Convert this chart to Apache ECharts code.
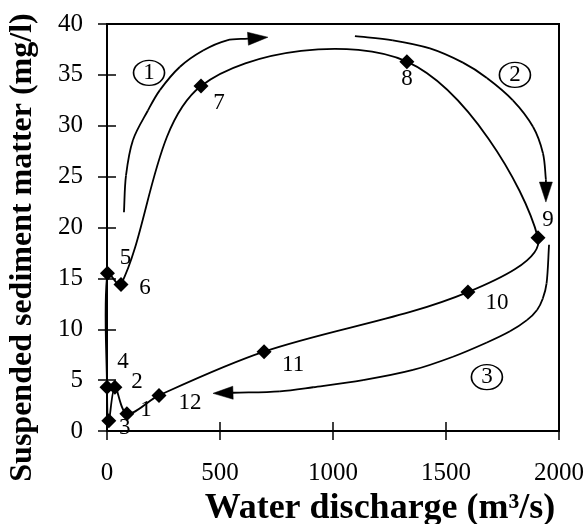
<!DOCTYPE html>
<html>
<head>
<meta charset="utf-8">
<script src="https://cdn.jsdelivr.net/npm/echarts@6/dist/echarts.min.js"></script>
<style>html,body{margin:0;padding:0;background:#fff;}#c{width:587px;height:524px;}</style>
</head>
<body>
<div id="c"></div>
<script>
// Monthly points (month number, water discharge m3/s, suspended sediment mg/l)
var months = ['1','2','3','4','5','6','7','8','9','10','11','12'];
var discharge = [88, 35, 8, 0, 2, 62, 416, 1327, 1907, 1597, 695, 230];
var sediment = [1.7, 4.3, 1.0, 4.3, 15.5, 14.4, 33.9, 36.3, 19.0, 13.65, 7.8, 3.5];
// label offsets for month labels [dx, dy] in px
var labelOffsets = [[19,-4],[22,-5],[16,7],[16,-25],[18,-15],[24,3],[18,17],[0,17],[10,-18],[29,11],[29,13],[31,8]];

// Hysteresis arrows (data coordinates, last point = arrow tip)
var arrow1 = [[75,21.5],[84,25.1],[115,28.6],[181,31.5],[234,33.5],[323,35.8],[425,37.4],[531,38.4],[712,38.7]];
var arrow2 = [[1097,38.8],[1265,38.4],[1429,37.6],[1575,36.2],[1681,34.7],[1796,32.5],[1885,29.9],[1929,27.3],[1942,24.7],[1942,22.5]];
var arrow3 = [[1956,18.3],[1945,14.5],[1928,13.0],[1903,11.9],[1858,10.9],[1783,9.8],[1681,8.7],[1531,7.3],[1354,6.0],[1133,5.0],[912,4.3],[765,3.9],[469,3.7]];
var phaseLabels = ['1','2','3'];
var phasePos = [[186,35.2],[1805,35.0],[1681,5.3]];

var xTicks = [0, 500, 1000, 1500, 2000];
var yTicks = [0, 5, 10, 15, 20, 25, 30, 35, 40];

var font = '"Liberation Serif", "Times New Roman", serif';
var arrows = [arrow1, arrow2, arrow3];

// Smoothed curve (spreadsheet-like "smoothed line") through pixel points:
// tangent = next - prev, split by neighbouring segment lengths
function smoothSegments(px, closed, style) {
  var n = px.length, out = [], s = 1 / 3;
  var segs = closed ? n : n - 1;
  function at(i) {
    if (closed) return px[(i + n) % n];
    return px[Math.max(0, Math.min(n - 1, i))];
  }
  function dist(a, b) { return Math.sqrt((a[0] - b[0]) * (a[0] - b[0]) + (a[1] - b[1]) * (a[1] - b[1])); }
  function cps(i) {
    var p = at(i), pr = at(i - 1), nx = at(i + 1);
    var dp = dist(p, pr), dn = dist(p, nx), sum = dp + dn || 1;
    var vx = nx[0] - pr[0], vy = nx[1] - pr[1];
    return {
      inX: p[0] - vx * s * dp / sum, inY: p[1] - vy * s * dp / sum,
      outX: p[0] + vx * s * dn / sum, outY: p[1] + vy * s * dn / sum
    };
  }
  for (var i = 0; i < segs; i++) {
    var p1 = at(i), p2 = at(i + 1), c1 = cps(i), c2 = cps(i + 1);
    out.push({
      type: 'bezierCurve',
      shape: {
        x1: p1[0], y1: p1[1], x2: p2[0], y2: p2[1],
        cpx1: c1.outX, cpy1: c1.outY, cpx2: c2.inX, cpy2: c2.inY
      },
      style: style
    });
  }
  return out;
}

var lineStyle = {stroke: '#000', lineWidth: 1.8, fill: null};

var chart = echarts.init(document.getElementById('c'), null, {renderer: 'canvas'});
chart.setOption({
  animation: false,
  backgroundColor: '#fff',
  grid: {left: 107, right: 28, top: 24, bottom: 93, containLabel: false, outerBoundsMode: 'none',
    show: true, borderColor: '#000', borderWidth: 2, backgroundColor: 'transparent'},
  xAxis: [
    {
      type: 'value', min: 0, max: 2000, interval: 500, position: 'bottom',
      splitLine: {show: false},
      axisLine: {show: true, onZero: false, lineStyle: {color: '#000', width: 2}},
      axisTick: {show: true, length: 9, lineStyle: {color: '#000', width: 1.5}},
      axisLabel: {color: '#000', fontFamily: font, fontSize: 25, margin: 30,
        formatter: function (v) { return xTicks.indexOf(v) >= 0 ? String(v) : ''; }},
      name: 'Water discharge (m\u00B3/s)', nameLocation: 'middle', nameGap: 57,
      nameTextStyle: {color: '#000', fontFamily: font, fontSize: 36, fontWeight: 'bold', padding: [0, 0, 0, 94]}
    },
    {
      type: 'value', min: 0, max: 2000, interval: 500, position: 'bottom',
      splitLine: {show: false},
      axisLine: {show: false, onZero: false},
      axisTick: {show: true, inside: true, length: 9, lineStyle: {color: '#000', width: 1.5}},
      axisLabel: {show: false}
    }
  ],
  yAxis: [
    {
      type: 'value', min: 0, max: 40, interval: 5, position: 'left',
      splitLine: {show: false},
      axisLine: {show: true, onZero: false, lineStyle: {color: '#000', width: 2}},
      axisTick: {show: true, length: 9, lineStyle: {color: '#000', width: 1.5}},
      axisLabel: {color: '#000', fontFamily: font, fontSize: 25, margin: 24,
        formatter: function (v) { return yTicks.indexOf(v) >= 0 ? String(v) : ''; }},
      name: 'Suspended sediment matter (mg/l)', nameLocation: 'middle', nameGap: 68,
      nameTextStyle: {color: '#000', fontFamily: font, fontSize: 32, fontWeight: 'bold', padding: [0, 40, 0, 0]}
    },
    {
      type: 'value', min: 0, max: 40, interval: 5, position: 'left',
      splitLine: {show: false},
      axisLine: {show: false, onZero: false},
      axisTick: {show: true, inside: true, length: 9, lineStyle: {color: '#000', width: 1.5}},
      axisLabel: {show: false}
    }
  ],
  series: [
    {
      // smoothed hysteresis loop through the monthly points
      type: 'custom', xAxisIndex: 0, yAxisIndex: 0,
      data: [[discharge[0], sediment[0]]],
      renderItem: function (params, api) {
        var px = discharge.map(function (d, i) { return api.coord([d, sediment[i]]); });
        return {type: 'group', children: smoothSegments(px, true, lineStyle)};
      },
      z: 2
    },
    {
      // hysteresis direction arrows
      type: 'custom', xAxisIndex: 0, yAxisIndex: 0,
      data: arrows.map(function (a) { return a[a.length - 1]; }),
      renderItem: function (params, api) {
        var a = arrows[params.dataIndex];
        var px = a.map(function (p) { return api.coord(p); });
        var n = px.length;
        var tip = px[n - 1], prev = px[n - 2];
        var dx = tip[0] - prev[0], dy = tip[1] - prev[1];
        var len = Math.sqrt(dx * dx + dy * dy); dx /= len; dy /= len;
        var L = 20, W = 6.5;
        var bx = tip[0] - dx * L, by = tip[1] - dy * L;
        var pts = px.slice(0, n - 1).concat([[bx, by]]);
        var children = smoothSegments(pts, false, lineStyle);
        children.push({
          type: 'polygon',
          shape: {points: [tip, [bx - dy * W, by + dx * W], [bx + dy * W, by - dx * W]]},
          style: {fill: '#000', stroke: '#000', lineWidth: 0.5}
        });
        return {type: 'group', children: children};
      },
      z: 2
    },
    {
      // monthly points with month numbers
      type: 'scatter', xAxisIndex: 0, yAxisIndex: 0,
      symbol: 'diamond', symbolSize: 15,
      itemStyle: {color: '#000', opacity: 1},
      data: discharge.map(function (d, i) {
        return {value: [d, sediment[i]], name: months[i], label: {offset: labelOffsets[i]}};
      }),
      label: {show: true, formatter: '{b}', position: 'inside', color: '#000', fontFamily: font, fontSize: 23},
      z: 3
    },
    {
      // circled phase numbers
      type: 'scatter', xAxisIndex: 0, yAxisIndex: 0,
      symbol: 'circle', symbolSize: [31, 25],
      itemStyle: {color: 'rgba(0,0,0,0)', borderColor: '#000', borderWidth: 1.5, opacity: 1},
      label: {show: true, position: 'inside', formatter: '{b}', color: '#000', fontFamily: font, fontSize: 23},
      data: phasePos.map(function (p, i) { return {value: p, name: phaseLabels[i]}; }),
      z: 3
    }
  ]
});
</script>
</body>
</html>
